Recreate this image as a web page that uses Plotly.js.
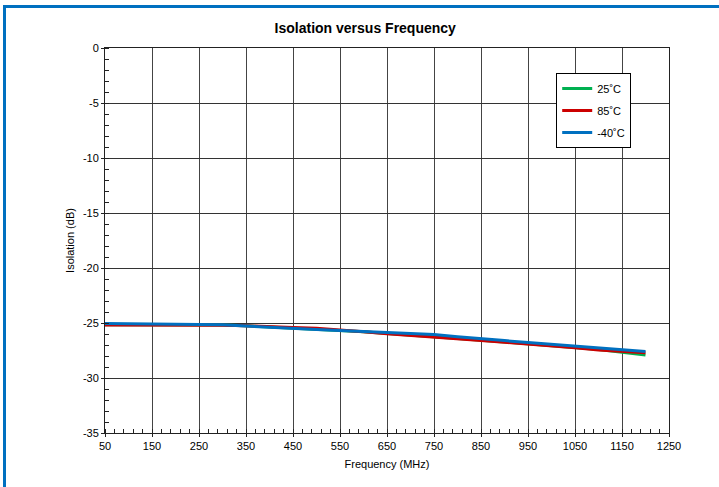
<!DOCTYPE html>
<html>
<head>
<meta charset="utf-8">
<script src="https://cdn.plot.ly/plotly-3.0.1.min.js"></script>
<style>
  html, body { margin:0; padding:0; background:#fff; }
  #wrap { position:relative; width:719px; height:487px; overflow:hidden; }
  #chart { position:absolute; left:0; top:0; width:719px; height:487px; }
  #frame { position:absolute; left:3px; top:5px; right:0; bottom:0;
           border-left:3px solid #0070C0; border-top:3px solid #0070C0; pointer-events:none; }
</style>
</head>
<body>
<div id="wrap"><div id="chart"></div><div id="frame"></div></div>
<script>
const freq = [50,100,150,200,250,300,350,400,450,500,550,600,650,700,750,800,850,900,950,1000,1050,1100,1150,1200];
const iso25 = [-25.15,-25.15,-25.16,-25.17,-25.18,-25.19,-25.25,-25.36,-25.44,-25.52,-25.64,-25.79,-25.95,-26.08,-26.22,-26.4,-26.56,-26.72,-26.87,-27.02,-27.2,-27.4,-27.65,-27.9];
const iso85 = [-25.18,-25.18,-25.18,-25.2,-25.2,-25.2,-25.25,-25.35,-25.42,-25.48,-25.62,-25.8,-25.98,-26.12,-26.28,-26.45,-26.6,-26.75,-26.9,-27.05,-27.25,-27.45,-27.6,-27.7];
const isoM40 = [-25.05,-25.07,-25.08,-25.1,-25.12,-25.15,-25.28,-25.4,-25.5,-25.6,-25.68,-25.78,-25.88,-25.95,-26.05,-26.25,-26.45,-26.6,-26.78,-26.95,-27.12,-27.3,-27.47,-27.6];
const seriesNames = ['25˚C','85˚C','-40˚C'];
const xTickVals = [50,150,250,350,450,550,650,750,850,950,1050,1150,1250];
const xTickText = ['50','150','250','350','450','550','650','750','850','950','1050','1150','1250'];
const yTickVals = [0,-5,-10,-15,-20,-25,-30,-35];
const yTickText = ['0','-5','-10','-15','-20','-25','-30','-35'];

const colors = ['#00B050','#CC0000','#0070C0'];
const ys = [iso25, iso85, isoM40];
const traces = ys.map((y,i)=>({
  x: freq, y: y, type:'scatter', mode:'lines', name: seriesNames[i],
  legendgroup: 'g'+i,
  line:{color:colors[i], width:3}
}));

const FF = 'Liberation Sans, Arial, sans-serif';
const layout = {
  width:719, height:487,
  margin:{l:105, r:50, t:48, b:54},
  paper_bgcolor:'#fff', plot_bgcolor:'#fff',
  font:{family:FF, size:11, color:'#000'},
  showlegend:true,
  title:{text:'<b>Isolation versus Frequency</b>', x:0.508, xref:'container', xanchor:'center',
         y:0.942, yref:'container', yanchor:'middle',
         font:{family:FF, size:14, color:'#000'}},
  xaxis:{
    range:[50,1250], tickmode:'array', tickvals:xTickVals, ticktext:xTickText,
    showgrid:true, gridcolor:'#444', gridwidth:1,
    showline:true, linecolor:'#222', linewidth:1, mirror:true,
    ticks:'outside', ticklen:3, tickcolor:'#222',
    minor:{tick0:50, dtick:20, ticks:'inside', ticklen:4, tickcolor:'#222', showgrid:false},
    zeroline:false,
    tickfont:{family:FF, size:11, color:'#000'},
    title:{text:'Frequency (MHz)', standoff:9, font:{family:FF, size:11, color:'#000'}}
  },
  yaxis:{
    range:[-35,0], tickmode:'array', tickvals:yTickVals, ticktext:yTickText,
    showgrid:true, gridcolor:'#333', gridwidth:1,
    showline:true, linecolor:'#222', linewidth:1, mirror:true,
    ticks:'outside', ticklen:3, tickcolor:'#222',
    minor:{tick0:0, dtick:1, ticks:'inside', ticklen:4, tickcolor:'#222', showgrid:false},
    zeroline:false,
    tickfont:{family:FF, size:11, color:'#000'},
    title:{text:'Isolation (dB)', standoff:6, font:{family:FF, size:11, color:'#000'}}
  },
  legend:{
    x:0.80, y:0.935, xanchor:'left', yanchor:'top',
    bgcolor:'#fff', bordercolor:'#000', borderwidth:1,
    font:{family:FF, size:11, color:'#000'},
    traceorder:'grouped', tracegroupgap:3, itemwidth:30
  }
};
Plotly.newPlot('chart', traces, layout, {displayModeBar:false, staticPlot:true});
</script>
</body>
</html>
